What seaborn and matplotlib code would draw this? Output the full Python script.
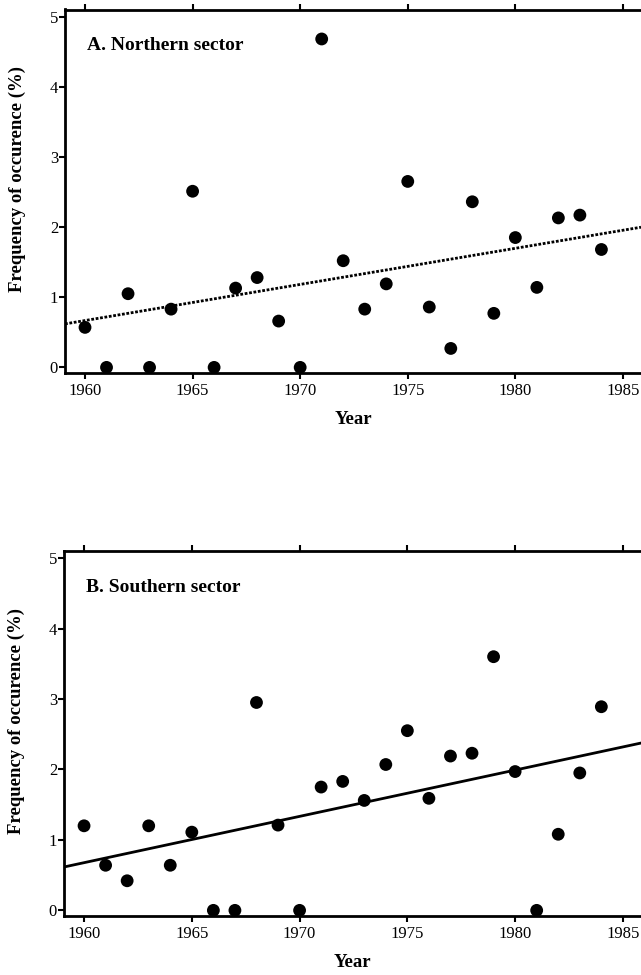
import matplotlib
matplotlib.use("Agg")
import matplotlib.pyplot as plt
import seaborn as sns
import numpy as np
import pandas as pd

years = list(range(1960, 1985))
northern = [0.57, 0.0, 1.05, 0.0, 0.83, 2.51, 0.0, 1.13, 1.28, 0.66, 0.0, 4.68, 1.52,
            0.83, 1.19, 2.65, 0.86, 0.27, 2.36, 0.77, 1.85, 1.14, 2.13, 2.17, 1.68]
southern = [1.20, 0.64, 0.42, 1.20, 0.64, 1.11, 0.0, 0.0, 2.95, 1.21, 0.0, 1.75, 1.83,
            1.56, 2.07, 2.55, 1.59, 2.19, 2.23, 3.60, 1.97, 0.0, 1.08, 1.95, 2.89]
x_ticks = [1960, 1965, 1970, 1975, 1980, 1985]
y_ticks = [0, 1, 2, 3, 4, 5]
titles = ["A. Northern sector", "B. Southern sector"]
x_label = "Year"
y_label = "Frequency of occurence (%)"

sns.set_style("ticks")
plt.rcParams['font.family'] = ['Liberation Serif', 'DejaVu Serif']
plt.rcParams['text.color'] = 'black'
plt.rcParams['axes.labelcolor'] = 'black'
plt.rcParams['xtick.color'] = 'black'
plt.rcParams['ytick.color'] = 'black'

fig = plt.figure(figsize=(6.41, 9.75), dpi=100)
W, H = 641, 975
boxes = [(65, 9.5, 641, 373), (64, 551, 641, 916)]
series = [northern, southern]
line_styles = [(0, (1, 0.6)), "-"]

for (x0, y0, x1, y1), vals, title, ls in zip(boxes, series, titles, line_styles):
    ax = fig.add_axes([x0 / W, 1 - y1 / H, (x1 - x0) / W, (y1 - y0) / H])
    ax.set_xlim(1959.07, 1985.84)
    ax.set_ylim(-0.08, 5.1)
    df = pd.DataFrame({"Year": years, "Freq": vals})
    sns.regplot(data=df, x="Year", y="Freq", ax=ax, ci=None, truncate=False,
                scatter_kws=dict(s=85, color="black", alpha=1, edgecolor="none",
                                 clip_on=False, zorder=3),
                line_kws=dict(color="black", lw=2.0, linestyle=ls))
    ax.set_xlim(1959.07, 1985.84)
    ax.set_ylim(-0.08, 5.1)
    ax.set_xticks(x_ticks)
    ax.set_yticks(y_ticks)
    ax.set_xticklabels([str(t) for t in x_ticks], fontsize=12)
    ax.set_yticklabels([str(t) for t in y_ticks], fontsize=12)
    ax.tick_params(axis="x", which="both", top=True, bottom=True, direction="out",
                   length=4, width=1.5, pad=3, colors="black")
    ax.tick_params(axis="y", direction="out", length=4, width=1.5, pad=1, colors="black")
    for side in ["left", "top", "bottom"]:
        ax.spines[side].set_linewidth(2)
        ax.spines[side].set_color("black")
    ax.spines["right"].set_visible(False)
    ax.set_xlabel(x_label, fontsize=13.5, fontweight="bold", labelpad=9, color="black")
    ax.set_ylabel(y_label, fontsize=13.5, fontweight="bold", color="black")
    ax.yaxis.set_label_coords(-0.068, 0.533)
    ax.text(0.038, 0.90, title, transform=ax.transAxes, fontsize=14,
            fontweight="bold", va="center", ha="left", color="black")

fig.savefig("out.png", dpi=100)
